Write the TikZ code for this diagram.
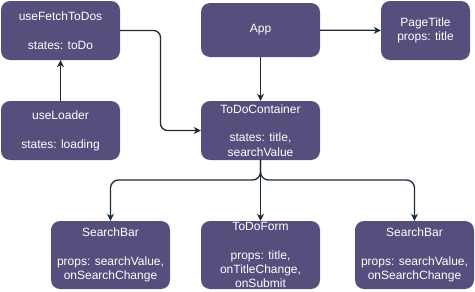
\documentclass[tikz,border=0pt]{standalone}
\usepackage{fontspec}
\setmainfont{Liberation Sans}
\usetikzlibrary{arrows.meta,calc}
\definecolor{boxfill}{HTML}{574E7D}
\definecolor{wire}{HTML}{1B2A3A}
\begin{document}
\begin{tikzpicture}[x=1pt,y=-1pt,line cap=round,line join=round]
  \tikzset{
    comp/.style={fill=boxfill,draw=none,rounded corners=9pt,text=white,
      minimum width=119pt,minimum height=59pt,inner sep=0pt,align=center,
      font=\fontsize{12pt}{14.4pt}\selectfont},
    link/.style={draw=wire,line width=1.3pt,-{Stealth[length=7pt,width=7pt]}}
  }
  \useasboundingbox (0,0) rectangle (475,292);
  % hooks on the left
  \node[comp] (fetch) at (60.5,30.5) {useFetchToDos\\[14.4pt]states: toDo};
  \node[comp] (loader) at (60.5,130.5) {useLoader\\[14.4pt]states: loading};
  % component tree
  \node[comp,minimum height=54pt] (app) at (260.5,30) {App};
  \node[comp,minimum width=89pt] (title) at (425.5,30.5) {PageTitle\\props: title};
  \node[comp] (container) at (260.5,130.5)
    {ToDoContainer\\[14.4pt]states: title,\\searchValue};
  \node[comp,minimum height=68pt] (searchL) at (110.5,255)
    {SearchBar\\[14.4pt]props: searchValue,\\onSearchChange};
  \node[comp,minimum height=68pt] (form) at (260.5,255)
    {ToDoForm\\[14.4pt]props: title,\\onTitleChange,\\onSubmit};
  \node[comp,minimum height=68pt] (searchR) at (414.5,255)
    {SearchBar\\[14.4pt]props: searchValue,\\onSearchChange};
  \coordinate (bend) at (160.5,80);
  \coordinate (split) at (260.5,180);
  % connectors
  \draw[link] (loader) -- (fetch);
  \draw[link,rounded corners=7pt] (fetch.east) -| (bend) |- (container.west);
  \draw[link] (app) -- (container);
  \draw[link] (app) -- (title);
  \draw[link,rounded corners=8pt] (container.south) |- (split) -| (searchL.north);
  \draw[link,rounded corners=8pt] (container.south) |- (split) -| (searchR.north);
  \draw[link] (container) -- (form);
\end{tikzpicture}
\end{document}
